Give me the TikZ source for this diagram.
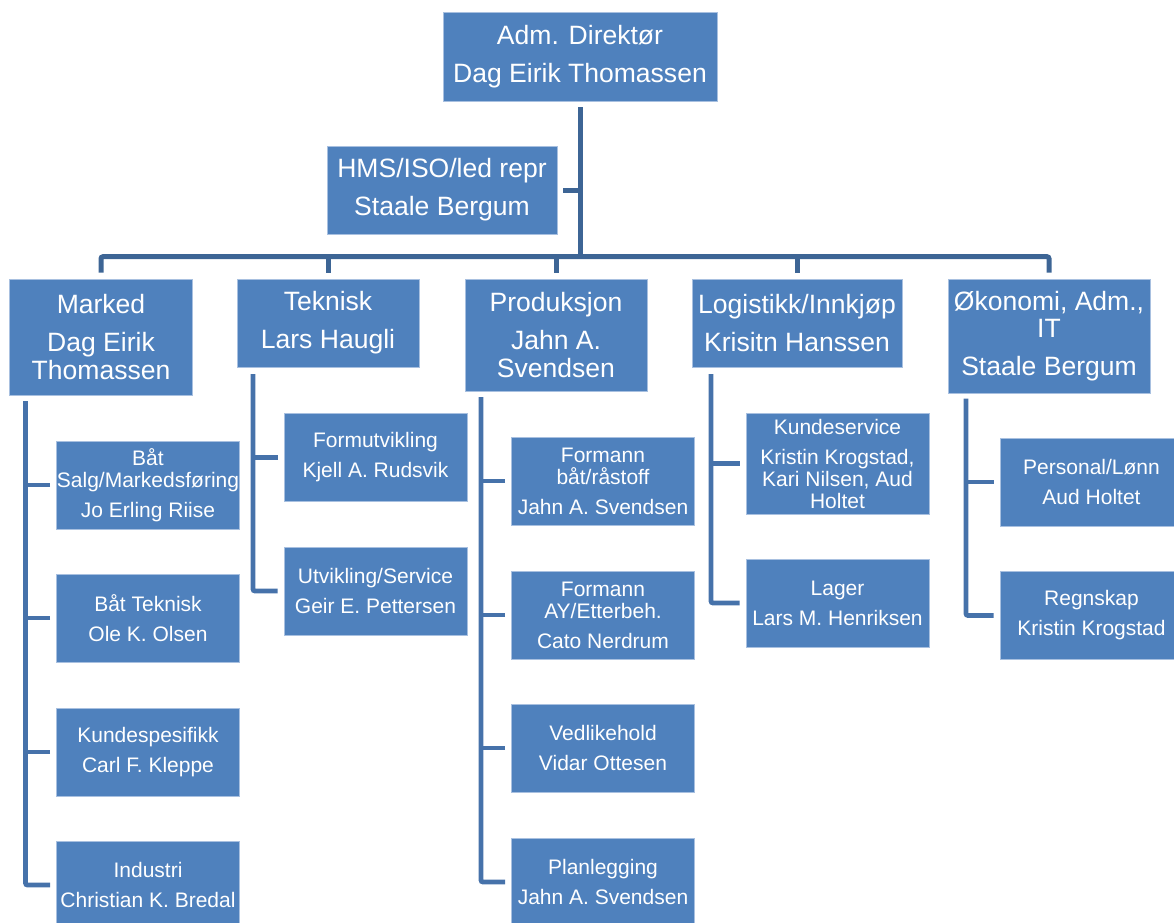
\documentclass[tikz,border=0pt]{standalone}
\usepackage{fontspec}
\setmainfont{Liberation Sans}
\usetikzlibrary{calc}

\definecolor{boxblue}{HTML}{4F81BD}
\definecolor{boxedge}{HTML}{A8C0E0}
\definecolor{linetop}{HTML}{3D6595}
\definecolor{linesub}{HTML}{4672AA}

\tikzset{
  unit/.style={rectangle, fill=boxblue, draw=boxedge, line width=0.4pt,
               text=white, align=center, inner sep=0pt},
  sz/.style 2 args={minimum width=#1*0.75pt, minimum height=#2*0.75pt},
  head/.style={unit, font=\fontsize{19.9}{20.8}\selectfont},
  sub/.style={unit, font=\fontsize{15.75}{16.5}\selectfont},
  conn/.style={draw=linetop, line width=3.75pt, rounded corners=1.5pt},
  subconn/.style={draw=linesub, line width=3.6pt, rounded corners=1.5pt},
}

\begin{document}
\begin{tikzpicture}[x=0.75pt, y=-0.75pt]
\useasboundingbox (0,0) rectangle (1174,922);
\clip (0,0) rectangle (1174,922);

% ---- management ----
\node[head, sz={274}{89}] (adm) at (580,56.5) {Adm. Direktør\\[7.6pt]Dag Eirik Thomassen};
\node[head, sz={230}{88}] (hms) at (442,190) {HMS/ISO/led repr\\[7.6pt]Staale Bergum};

% ---- departments ----
\node[head, sz={183}{116}] (marked) at (101,337) {Marked\\[7.6pt]Dag Eirik\\Thomassen};
\node[head, sz={182}{88}] (teknisk) at (328,323) {Teknisk\\[7.6pt]Lars Haugli};
\node[head, sz={182}{112}] (prod) at (556,335) {Produksjon\\[7.6pt]Jahn A.\\Svendsen};
\node[head, sz={210}{88}] (logistikk) at (797,323) {Logistikk/Innkjøp\\[7.6pt]Krisitn Hanssen};
\node[head, sz={202}{114}] (okonomi) at (1049,336) {Økonomi, Adm.,\\IT\\[7.6pt]Staale Bergum};

% ---- Marked ----
\node[sub, sz={183}{88}] (batsalg) at (148,485) {Båt\\Salg/Markedsføring\\[6pt]Jo Erling Riise};
\node[sub, sz={183}{88}] (battek) at (148,618) {Båt Teknisk\\[6pt]Ole K. Olsen};
\node[sub, sz={183}{88}] (kundespes) at (148,752) {Kundespesifikk\\[6pt]Carl F. Kleppe};
\node[sub, sz={183}{88}] (industri) at (148,885) {Industri\\[6pt]Christian K. Bredal};

% ---- Teknisk ----
\node[sub, sz={183}{88}] (formut) at (375.5,457.3) {Formutvikling\\[6pt]Kjell A. Rudsvik};
\node[sub, sz={183}{88}] (utvik) at (375.5,591) {Utvikling/Service\\[6pt]Geir E. Pettersen};

% ---- Produksjon ----
\node[sub, sz={183}{88}] (formbat) at (603,481) {Formann\\båt/råstoff\\[6pt]Jahn A. Svendsen};
\node[sub, sz={183}{88}] (formay) at (603,615) {Formann\\AY/Etterbeh.\\[6pt]Cato Nerdrum};
\node[sub, sz={183}{88}] (vedl) at (603,748) {Vedlikehold\\[6pt]Vidar Ottesen};
\node[sub, sz={183}{88}] (plan) at (603,882) {Planlegging\\[6pt]Jahn A. Svendsen};

% ---- Logistikk ----
\node[sub, sz={183}{101}] (kundeserv) at (837.5,463.5) {Kundeservice\\[6pt]Kristin Krogstad,\\Kari Nilsen, Aud\\Holtet};
\node[sub, sz={183}{88}] (lager) at (837.5,603) {Lager\\[6pt]Lars M. Henriksen};

% ---- Økonomi ----
\node[sub, sz={183}{88}] (personal) at (1091.5,482) {Personal/Lønn\\[6pt]Aud Holtet};
\node[sub, sz={183}{88}] (regnskap) at (1091.5,615.5) {Regnskap\\[6pt]Kristin Krogstad};

% ---- top connectors ----
\coordinate (hub) at (580,256.7);
\draw[conn] ([yshift=-4.5pt]adm.south) -- (hub);
\draw[conn] ([xshift=4.5pt]hms.east) -- (hms.east -| hub);
\draw[conn] ([yshift=4.5pt]marked.north) |- (hub) -| ([yshift=4.5pt]okonomi.north);
\draw[conn] ([yshift=4.5pt]teknisk.north) -- (teknisk.north |- hub);
\draw[conn] ([yshift=4.5pt]prod.north) -- (prod.north |- hub);
\draw[conn] ([yshift=4.5pt]logistikk.north) -- (logistikk.north |- hub);

% ---- spines ----
\coordinate (mspine) at (25.5,401);
\coordinate (tspine) at (253,374);
\coordinate (pspine) at (481,397);
\coordinate (lspine) at (711,374);
\coordinate (ospine) at (966,398.5);

\draw[subconn] (mspine) |- ([xshift=-4.5pt]industri.west);
\foreach \c in {batsalg,battek,kundespes}
  \draw[subconn] ([xshift=-4.5pt]\c.west) -- (\c.west -| mspine);

\draw[subconn] (tspine) |- ([xshift=-4.5pt]utvik.west);
\draw[subconn] ([xshift=-4.5pt]formut.west) -- (formut.west -| tspine);

\draw[subconn] (pspine) |- ([xshift=-4.5pt]plan.west);
\foreach \c in {formbat,formay,vedl}
  \draw[subconn] ([xshift=-4.5pt]\c.west) -- (\c.west -| pspine);

\draw[subconn] (lspine) |- ([xshift=-4.5pt]lager.west);
\draw[subconn] ([xshift=-4.5pt]kundeserv.west) -- (kundeserv.west -| lspine);

\draw[subconn] (ospine) |- ([xshift=-4.5pt]regnskap.west);
\draw[subconn] ([xshift=-4.5pt]personal.west) -- (personal.west -| ospine);
\end{tikzpicture}
\end{document}
